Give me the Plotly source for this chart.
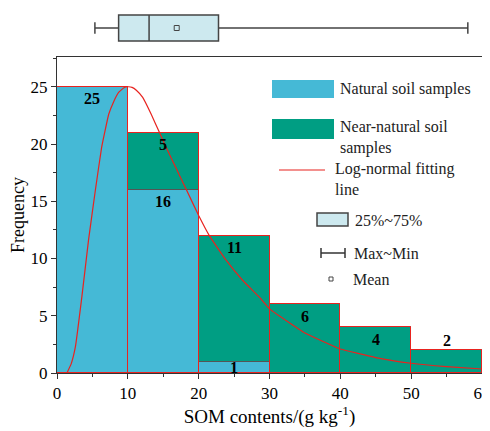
import plotly.graph_objects as go

# ---- data ----
bin_left = [0, 10, 20, 30, 40, 50]
bin_width = 10
natural = [25, 16, 1, 0, 0, 0]
near_natural = [0, 5, 11, 6, 4, 2]

fit_x = [1.4, 2.0, 2.6, 3.5, 4.45, 5.4, 6.3, 7.3, 8.0, 8.7, 9.4, 10, 10.6, 11.2, 12.1,
         13.3, 14.5, 15.65, 16.8, 18.2, 20, 21.5, 23.9, 26.2, 28.6, 30, 35, 40, 45,
         50, 55, 60]
fit_y = [0, 0.8, 2.3, 6.6, 11.6, 15.9, 19.7, 22.6, 23.7, 24.5, 24.9, 25, 24.95, 24.7,
         24.07, 22.6, 20.96, 19.4, 17.9, 16.1, 13.75, 12.0, 9.83, 8.1, 6.6, 5.6, 3.5,
         2.1, 1.35, 0.85, 0.55, 0.35]

box_min = 5.35
box_q1 = 8.7
box_median = 13.0
box_q3 = 22.8
box_max = 58.0
box_mean = 16.9

x_ticks = [0, 10, 20, 30, 40, 50, 60]
y_ticks = [0, 5, 10, 15, 20, 25]

# ---- styles ----
C_NAT = "#45B9D6"
C_NEAR = "#009E83"
C_RED = "#E8231F"
C_BOX = "#CDE9EF"
C_EDGE = "#555555"
FONT = "Liberation Serif"

centers = [l + bin_width / 2 for l in bin_left]
totals = [a + b for a, b in zip(natural, near_natural)]

fig = go.Figure()

fig.add_trace(go.Bar(x=centers, y=natural, width=bin_width, base=0,
                     marker=dict(color=C_NAT, line=dict(color=C_EDGE, width=1)),
                     showlegend=False, hoverinfo="skip"))
fig.add_trace(go.Bar(x=centers, y=near_natural, width=bin_width, base=natural,
                     marker=dict(color=C_NEAR, line=dict(color=C_EDGE, width=1)),
                     showlegend=False, hoverinfo="skip"))
fig.add_trace(go.Bar(x=centers, y=totals, width=bin_width, base=0,
                     marker=dict(color="rgba(0,0,0,0)", line=dict(color=C_RED, width=1)),
                     showlegend=False, hoverinfo="skip"))

fig.add_trace(go.Scatter(x=fit_x, y=fit_y, mode="lines",
                         line=dict(color=C_RED, width=1.2, shape="spline", smoothing=0.3),
                         showlegend=False, hoverinfo="skip"))

# box plot on top
fig.add_trace(go.Box(y=[0], q1=[box_q1], median=[box_median], q3=[box_q3],
                     lowerfence=[box_min], upperfence=[box_max],
                     orientation="h", width=1.3, whiskerwidth=0.45,
                     fillcolor=C_BOX, line=dict(color="#444444", width=1.5),
                     boxpoints=False, xaxis="x2", yaxis="y2",
                     showlegend=False, hoverinfo="skip"))
fig.add_trace(go.Scatter(x=[box_mean], y=[0], mode="markers",
                         marker=dict(symbol="square-open", size=5, color="#444444",
                                     line=dict(width=1)),
                         xaxis="x2", yaxis="y2", showlegend=False, hoverinfo="skip"))

# ---- layout ----
# the page body has an 8px margin, so the figure is drawn 8px in from the window corner
OFF = 8
W, H = 490 - OFF, 431 - OFF
PLOT_L, PLOT_R, PLOT_T, PLOT_B = 57, 482, 57, 373   # window pixels of the main plot box
ML = PLOT_L - OFF
MR = W - (PLOT_R - OFF)
MB = H - (PLOT_B - OFF)
MT = 0
PW = PLOT_R - PLOT_L
PH = PLOT_B - OFF


def px(xp):
    return (xp - PLOT_L) / PW


def py(yp):
    return (PLOT_B - yp) / PH


axis_font = dict(family=FONT, size=17, color="black")

fig.update_layout(
    width=W, height=H,
    margin=dict(l=ML, r=MR, t=MT, b=MB, autoexpand=False),
    paper_bgcolor="white", plot_bgcolor="white",
    barmode="overlay", bargap=0,
    font=dict(family=FONT, size=15, color="black"),
    xaxis=dict(range=[0, 60], domain=[0, 1], tickvals=x_ticks,
               showgrid=False, zeroline=False, automargin=False,
               ticklabeloverflow="allow",
               showline=True, linecolor="#333333", linewidth=1, mirror=True,
               ticks="outside", ticklen=5, tickcolor="#333333",
               minor=dict(dtick=5, ticks="outside", ticklen=3, tickcolor="#333333"),
               tickfont=axis_font,
               title=dict(text="SOM contents/(g kg<sup>-1</sup>)",
                          font=dict(family=FONT, size=19), standoff=6),
               anchor="y"),
    yaxis=dict(range=[0, 27.6], domain=[0, py(PLOT_T)], tickvals=y_ticks,
               showgrid=False, zeroline=False, automargin=False,
               ticklabeloverflow="allow",
               showline=True, linecolor="#333333", linewidth=1, mirror=True,
               ticks="outside", ticklen=5, tickcolor="#333333",
               minor=dict(dtick=2.5, ticks="outside", ticklen=3, tickcolor="#333333"),
               tickfont=axis_font,
               title=dict(text="Frequency", font=dict(family=FONT, size=18), standoff=9),
               anchor="x"),
    xaxis2=dict(matches="x", domain=[0, 1], anchor="y2", visible=False),
    yaxis2=dict(range=[-1, 1], domain=[py(48), py(8)], anchor="x2", visible=False),
)

# ---- segment labels (placed from the data) ----
ann = []
label_font = dict(family=FONT, size=16, color="black", weight="bold")
last_nonzero = max(i for i, t in enumerate(totals) if t > 0)
for i, (c, n, m, t) in enumerate(zip(centers, natural, near_natural, totals)):
    if n > 0:
        ann.append(dict(x=c, y=n, xref="x", yref="y", text=str(n), showarrow=False,
                        yanchor="middle", yshift=-6 if n <= 1 else -12, font=label_font))
    if m > 0:
        ann.append(dict(x=c, y=t, xref="x", yref="y", text=str(m), showarrow=False,
                        yanchor="middle", yshift=10 if i == last_nonzero else -12,
                        font=label_font))

# ---- custom legend ----
shapes = []


def rect(x0, y0, x1, y1, fill, line=None):
    shapes.append(dict(type="rect", xref="paper", yref="paper",
                       x0=px(x0), x1=px(x1), y0=py(y1), y1=py(y0),
                       fillcolor=fill,
                       line=line if line else dict(width=0)))


def seg(x0, y0, x1, y1, color, width=1):
    shapes.append(dict(type="line", xref="paper", yref="paper",
                       x0=px(x0), x1=px(x1), y0=py(y0), y1=py(y1),
                       line=dict(color=color, width=width)))


def label(x, y, text):
    ann.append(dict(xref="paper", yref="paper", x=px(x), y=py(y), text=text,
                    showarrow=False, xanchor="left", yanchor="middle", align="left",
                    font=dict(family=FONT, size=16, color="#222222")))


rect(272, 80, 334, 98, C_NAT)
label(338, 89, "Natural soil samples")
rect(272, 119, 334, 139, C_NEAR)
label(338, 137, "Near-natural soil<br>samples")
seg(279, 170, 325, 170, C_RED, 1.2)
label(333, 179, "Log-normal fitting<br>line")
rect(317, 213, 348, 226, C_BOX, dict(color="#444444", width=1.5))
label(353, 220, "25%~75%")
seg(321, 253, 345, 253, "#333333", 1.5)
seg(321, 248, 321, 258, "#333333", 1.5)
seg(345, 248, 345, 258, "#333333", 1.5)
label(352, 253, "Max~Min")
rect(329, 277, 333, 281, "white", dict(color="#444444", width=1))
label(351, 279, "Mean")

fig.update_layout(shapes=shapes, annotations=ann)

fig.write_html("out.html")
